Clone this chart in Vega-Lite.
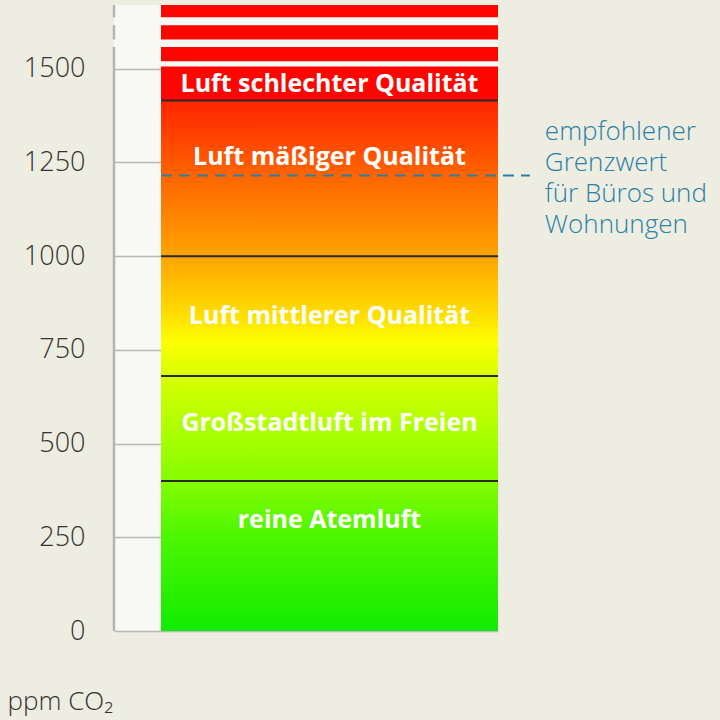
{
  "$schema": "https://vega.github.io/schema/vega-lite/v6.json",
  "width": 384,
  "height": 626,
  "autosize": {"type": "none"},
  "padding": {"left": 114, "top": 5, "right": 222, "bottom": 89},
  "background": "#eeede1",
  "view": {"fill": "#f8f8f4", "stroke": null},
  "config": {
    "axisY": {
      "grid": true,
      "gridColor": "#b8b8b4",
      "gridWidth": 1.5,
      "domain": false,
      "ticks": false,
      "format": "d",
      "labelPadding": 29,
      "labelFont": "Open Sans",
      "labelFontSize": 27,
      "labelFontWeight": 300,
      "labelColor": "#333333",
      "titleAngle": 0,
      "titleAlign": "left",
      "titleBaseline": "alphabetic",
      "titleX": -107,
      "titleY": 704,
      "titleFont": "Open Sans",
      "titleFontSize": 26,
      "titleFontWeight": 300,
      "titleColor": "#333333"
    }
  },
  "datasets": {
    "axisline": [
      {"from": 0, "to": 1558},
      {"from": 1578, "to": 1616},
      {"from": 1637, "to": 1670}
    ],
    "redbands": [
      {"from": 1415, "to": 1506},
      {"from": 1520, "to": 1558},
      {"from": 1578, "to": 1616},
      {"from": 1637, "to": 1670}
    ],
    "scale": [{"from": 0, "to": 1415}],
    "zones": [
      {"zone": "reine Atemluft", "from": 0, "to": 400, "mid": 296},
      {"zone": "Großstadtluft im Freien", "from": 400, "to": 680, "mid": 555},
      {"zone": "Luft mittlerer Qualität", "from": 680, "to": 1000, "mid": 840},
      {"zone": "Luft mäßiger Qualität", "from": 1000, "to": 1415, "mid": 1264},
      {"zone": "Luft schlechter Qualität", "from": 1415, "to": 1506, "mid": 1459}
    ],
    "limit": [
      {"ppm": 1215, "note": "empfohlener\nGrenzwert\nfür Büros und\nWohnungen"}
    ]
  },
  "layer": [
    {
      "data": {"name": "axisline"},
      "mark": {"type": "rule", "color": "#b4b4b0", "strokeWidth": 2.5},
      "encoding": {
        "x": {"datum": 0, "type": "quantitative", "scale": {"domain": [0, 100]}, "axis": null},
        "y": {
          "field": "from",
          "type": "quantitative",
          "scale": {"domain": [0, 1670], "nice": false},
          "axis": {"values": [0, 250, 500, 750, 1000, 1250, 1500], "title": "ppm CO₂"}
        },
        "y2": {"field": "to"}
      }
    },
    {
      "data": {"name": "scale"},
      "mark": {
        "type": "rect",
        "stroke": null,
        "fill": {
          "gradient": "linear",
          "x1": 0, "y1": 1, "x2": 0, "y2": 0,
          "stops": [
            {"offset": 0, "color": "#12ec00"},
            {"offset": 0.177, "color": "#4cf600"},
            {"offset": 0.283, "color": "#85fc00"},
            {"offset": 0.353, "color": "#a2ff00"},
            {"offset": 0.48, "color": "#d8ff00"},
            {"offset": 0.545, "color": "#fcff00"},
            {"offset": 0.6, "color": "#ffdc00"},
            {"offset": 0.707, "color": "#ffa400"},
            {"offset": 0.86, "color": "#ff6400"},
            {"offset": 1, "color": "#ff2400"}
          ]
        }
      },
      "encoding": {
        "x": {"datum": 12.24, "type": "quantitative", "scale": {"domain": [0, 100]}, "axis": null},
        "x2": {"datum": 100},
        "y": {"field": "from", "type": "quantitative", "axis": {"values": [0, 250, 500, 750, 1000, 1250, 1500], "title": "ppm CO₂"}},
        "y2": {"field": "to"}
      }
    },
    {
      "data": {"name": "redbands"},
      "mark": {"type": "rect", "color": "#fe0500"},
      "encoding": {
        "x": {"datum": 12.24, "type": "quantitative", "scale": {"domain": [0, 100]}, "axis": null},
        "x2": {"datum": 100},
        "y": {"field": "from", "type": "quantitative", "axis": {"values": [0, 250, 500, 750, 1000, 1250, 1500], "title": "ppm CO₂"}},
        "y2": {"field": "to"}
      }
    },
    {
      "data": {"name": "zones"},
      "transform": [{"filter": "datum.from > 0"}],
      "mark": {"type": "rule", "color": "#2a2a2a", "strokeWidth": 2},
      "encoding": {
        "x": {"datum": 12.24, "type": "quantitative", "scale": {"domain": [0, 100]}, "axis": null},
        "x2": {"datum": 100},
        "y": {"field": "from", "type": "quantitative", "axis": {"values": [0, 250, 500, 750, 1000, 1250, 1500], "title": "ppm CO₂"}}
      }
    },
    {
      "data": {"name": "limit"},
      "mark": {"type": "rule", "color": "#2b80a5", "strokeWidth": 2, "strokeDash": [11, 7]},
      "encoding": {
        "x": {"datum": 12.24, "type": "quantitative", "scale": {"domain": [0, 100]}, "axis": null},
        "x2": {"datum": 108.3},
        "y": {"field": "ppm", "type": "quantitative", "axis": {"values": [0, 250, 500, 750, 1000, 1250, 1500], "title": "ppm CO₂"}}
      }
    },
    {
      "data": {"name": "zones"},
      "mark": {
        "type": "text",
        "font": "Open Sans",
        "fontSize": 25,
        "fontWeight": "bold",
        "color": "#ffffff",
        "align": "center",
        "baseline": "middle"
      },
      "encoding": {
        "x": {"datum": 56.12, "type": "quantitative", "scale": {"domain": [0, 100]}, "axis": null},
        "y": {"field": "mid", "type": "quantitative", "axis": {"values": [0, 250, 500, 750, 1000, 1250, 1500], "title": "ppm CO₂"}},
        "text": {"field": "zone"}
      }
    },
    {
      "data": {"name": "limit"},
      "mark": {
        "type": "text",
        "font": "Open Sans",
        "fontSize": 26,
        "fontWeight": 300,
        "color": "#2b80a5",
        "align": "left",
        "baseline": "middle",
        "lineBreak": "\n",
        "lineHeight": 31,
        "dy": -44
      },
      "encoding": {
        "x": {"datum": 112.2, "type": "quantitative", "scale": {"domain": [0, 100]}, "axis": null},
        "y": {"field": "ppm", "type": "quantitative", "axis": {"values": [0, 250, 500, 750, 1000, 1250, 1500], "title": "ppm CO₂"}},
        "text": {"field": "note"}
      }
    }
  ]
}
